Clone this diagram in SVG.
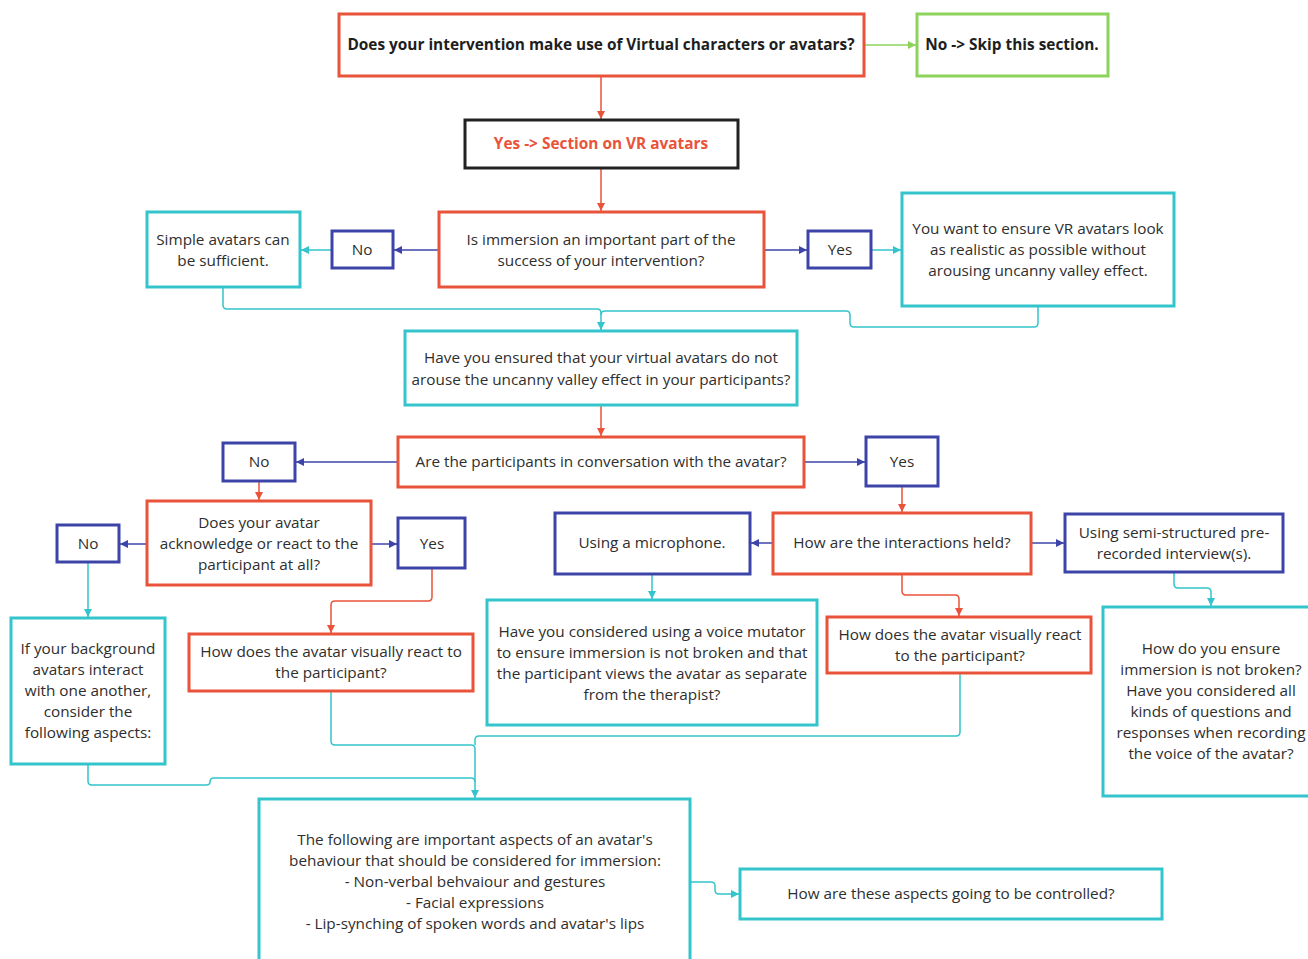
<svg xmlns="http://www.w3.org/2000/svg" width="1308" height="959" viewBox="0 0 1308 959">
<defs>
<style>
.bx{fill:#fff;stroke-width:3}
.r{stroke:#e9533a}.b{stroke:#3c44a8}.c{stroke:#33c4cc}.g{stroke:#8cd35b}.k{stroke:#222}
text{font-family:"Open Sans","Noto Sans","Liberation Sans",sans-serif;font-size:15.3px;fill:#2e2e2e;text-anchor:middle}
.bd{font-weight:bold;fill:#1e1e1e;font-size:15.4px}
.or{fill:#e9533a}
.cn path{fill:none;stroke-width:1.5}
</style>
<marker id="ar" markerUnits="userSpaceOnUse" markerWidth="10" markerHeight="10" refX="8" refY="4" orient="auto"><path d="M0,0 L8,4 L0,8 z" fill="#e9533a"/></marker>
<marker id="ab" markerUnits="userSpaceOnUse" markerWidth="10" markerHeight="10" refX="8" refY="4" orient="auto"><path d="M0,0 L8,4 L0,8 z" fill="#3c44a8"/></marker>
<marker id="ac" markerUnits="userSpaceOnUse" markerWidth="10" markerHeight="10" refX="8" refY="4" orient="auto"><path d="M0,0 L8,4 L0,8 z" fill="#33c4cc"/></marker>
<marker id="ag" markerUnits="userSpaceOnUse" markerWidth="10" markerHeight="10" refX="8" refY="4" orient="auto"><path d="M0,0 L8,4 L0,8 z" fill="#8cd35b"/></marker>
</defs>
<rect width="1308" height="959" fill="#fff"/>

<g id="connectors" class="cn">
<path class="g" d="M864,45 H916" marker-end="url(#ag)"/>
<path class="r" d="M601,76 V119" marker-end="url(#ar)"/>
<path class="r" d="M601,168 V211" marker-end="url(#ar)"/>
<path class="b" d="M439,250 H394" marker-end="url(#ab)"/>
<path class="c" d="M332,250 H301" marker-end="url(#ac)"/>
<path class="b" d="M764,250 H807" marker-end="url(#ab)"/>
<path class="c" d="M871,250 H901" marker-end="url(#ac)"/>
<path class="c" d="M223,287 V305 Q223,309 227,309 H597 Q601,309 601,313 V330" marker-end="url(#ac)"/>
<path class="c" d="M1038,306 V323 Q1038,327 1034,327 H854 Q850,327 850,323 V315 Q850,311 846,311 H605 Q601,311 601,315"/>
<path class="r" d="M601,405 V436" marker-end="url(#ar)"/>
<path class="b" d="M398,462 H296" marker-end="url(#ab)"/>
<path class="b" d="M804,462 H865" marker-end="url(#ab)"/>
<path class="r" d="M259,481 V500" marker-end="url(#ar)"/>
<path class="b" d="M147,544 H120" marker-end="url(#ab)"/>
<path class="b" d="M371,544 H397" marker-end="url(#ab)"/>
<path class="c" d="M88,562 V617" marker-end="url(#ac)"/>
<path class="r" d="M432,568 V597 Q432,601 428,601 H335 Q331,601 331,605 V633" marker-end="url(#ar)"/>
<path class="r" d="M902,486 V512" marker-end="url(#ar)"/>
<path class="b" d="M773,543 H751" marker-end="url(#ab)"/>
<path class="b" d="M1031,543 H1064" marker-end="url(#ab)"/>
<path class="r" d="M902,574 V591 Q902,595 906,595 H955 Q959,595 959,599 V616" marker-end="url(#ar)"/>
<path class="c" d="M652,574 V599" marker-end="url(#ac)"/>
<path class="c" d="M1174,572 V584 Q1174,588 1178,588 H1207 Q1211,588 1211,592 V606" marker-end="url(#ac)"/>
<path class="c" d="M331,691 V741 Q331,745 335,745 H471 Q475,745 475,749 V798" marker-end="url(#ac)"/>
<path class="c" d="M960,673 V732 Q960,736 956,736 H479 Q475,736 475,740 V745"/>
<path class="c" d="M88,764 V781 Q88,785 92,785 H206 Q210,785 210,782 Q210,778 214,778 H471 Q475,778 475,782"/>
<path class="c" d="M690,882 H711 Q715,882 715,886 V890 Q715,894 719,894 H739" marker-end="url(#ac)"/>
</g>

<g id="n1"><rect class="bx r" x="339" y="14" width="525" height="62"/><text class="bd" x="601" y="50">Does your intervention make use of Virtual characters or avatars?</text></g>
<g id="n2"><rect class="bx g" x="917" y="14" width="191" height="62"/><text class="bd" x="1012" y="50">No -&gt; Skip this section.</text></g>
<g id="n3"><rect class="bx k" x="465" y="120" width="273" height="48"/><text class="bd or" x="601" y="149">Yes -&gt; Section on VR avatars</text></g>
<g id="n4"><rect class="bx r" x="439" y="212" width="325" height="75"/><text x="601" y="245">Is immersion an important part of the</text><text x="601" y="266">success of your intervention?</text></g>
<g id="n5"><rect class="bx b" x="332" y="231" width="61" height="37"/><text x="362" y="255">No</text></g>
<g id="n6"><rect class="bx c" x="147" y="212" width="153" height="75"/><text x="223" y="245">Simple avatars can</text><text x="223" y="266">be sufficient.</text></g>
<g id="n7"><rect class="bx b" x="808" y="231" width="63" height="37"/><text x="840" y="255">Yes</text></g>
<g id="n8"><rect class="bx c" x="902" y="193" width="272" height="113"/><text x="1038" y="234">You want to ensure VR avatars look</text><text x="1038" y="255">as realistic as possible without</text><text x="1038" y="276">arousing uncanny valley effect.</text></g>
<g id="n9"><rect class="bx c" x="405" y="331" width="392" height="74"/><text x="601" y="363">Have you ensured that your virtual avatars do not</text><text x="601" y="385">arouse the uncanny valley effect in your participants?</text></g>
<g id="n10"><rect class="bx r" x="398" y="437" width="406" height="50"/><text x="601" y="467">Are the participants in conversation with the avatar?</text></g>
<g id="n11"><rect class="bx b" x="223" y="443" width="72" height="38"/><text x="259" y="467">No</text></g>
<g id="n12"><rect class="bx b" x="866" y="437" width="72" height="49"/><text x="902" y="467">Yes</text></g>
<g id="n13"><rect class="bx r" x="147" y="501" width="224" height="84"/><text x="259" y="528">Does your avatar</text><text x="259" y="549">acknowledge or react to the</text><text x="259" y="570">participant at all?</text></g>
<g id="n14"><rect class="bx b" x="57" y="525" width="62" height="37"/><text x="88" y="549">No</text></g>
<g id="n15"><rect class="bx b" x="398" y="518" width="67" height="50"/><text x="432" y="549">Yes</text></g>
<g id="n16"><rect class="bx b" x="555" y="513" width="195" height="61"/><text x="652" y="548">Using a microphone.</text></g>
<g id="n17"><rect class="bx r" x="773" y="513" width="258" height="61"/><text x="902" y="548">How are the interactions held?</text></g>
<g id="n18"><rect class="bx b" x="1065" y="514" width="218" height="58"/><text x="1174" y="538">Using semi-structured pre-</text><text x="1174" y="559">recorded interview(s).</text></g>
<g id="n19"><rect class="bx c" x="11" y="618" width="154" height="146"/><text x="88" y="654">If your background</text><text x="88" y="675">avatars interact</text><text x="88" y="696">with one another,</text><text x="88" y="717">consider the</text><text x="88" y="738">following aspects:</text></g>
<g id="n20"><rect class="bx r" x="189" y="634" width="284" height="57"/><text x="331" y="657">How does the avatar visually react to</text><text x="331" y="678">the participant?</text></g>
<g id="n21"><rect class="bx c" x="487" y="600" width="330" height="125"/><text x="652" y="637">Have you considered using a voice mutator</text><text x="652" y="658">to ensure immersion is not broken and that</text><text x="652" y="679">the participant views the avatar as separate</text><text x="652" y="700">from the therapist?</text></g>
<g id="n22"><rect class="bx r" x="827" y="617" width="264" height="56"/><text x="960" y="640">How does the avatar visually react</text><text x="960" y="661">to the participant?</text></g>
<g id="n23"><rect class="bx c" x="1103" y="607" width="217" height="189"/><text x="1211" y="654">How do you ensure</text><text x="1211" y="675">immersion is not broken?</text><text x="1211" y="696">Have you considered all</text><text x="1211" y="717">kinds of questions and</text><text x="1211" y="738">responses when recording</text><text x="1211" y="759">the voice of the avatar?</text></g>
<g id="n24"><rect class="bx c" x="259" y="799" width="431" height="175"/><text x="475" y="845">The following are important aspects of an avatar's</text><text x="475" y="866">behaviour that should be considered for immersion:</text><text x="475" y="887">- Non-verbal behvaiour and gestures</text><text x="475" y="908">- Facial expressions</text><text x="475" y="929">- Lip-synching of spoken words and avatar's lips</text></g>
<g id="n25"><rect class="bx c" x="740" y="869" width="422" height="50"/><text x="951" y="899">How are these aspects going to be controlled?</text></g>
</svg>
